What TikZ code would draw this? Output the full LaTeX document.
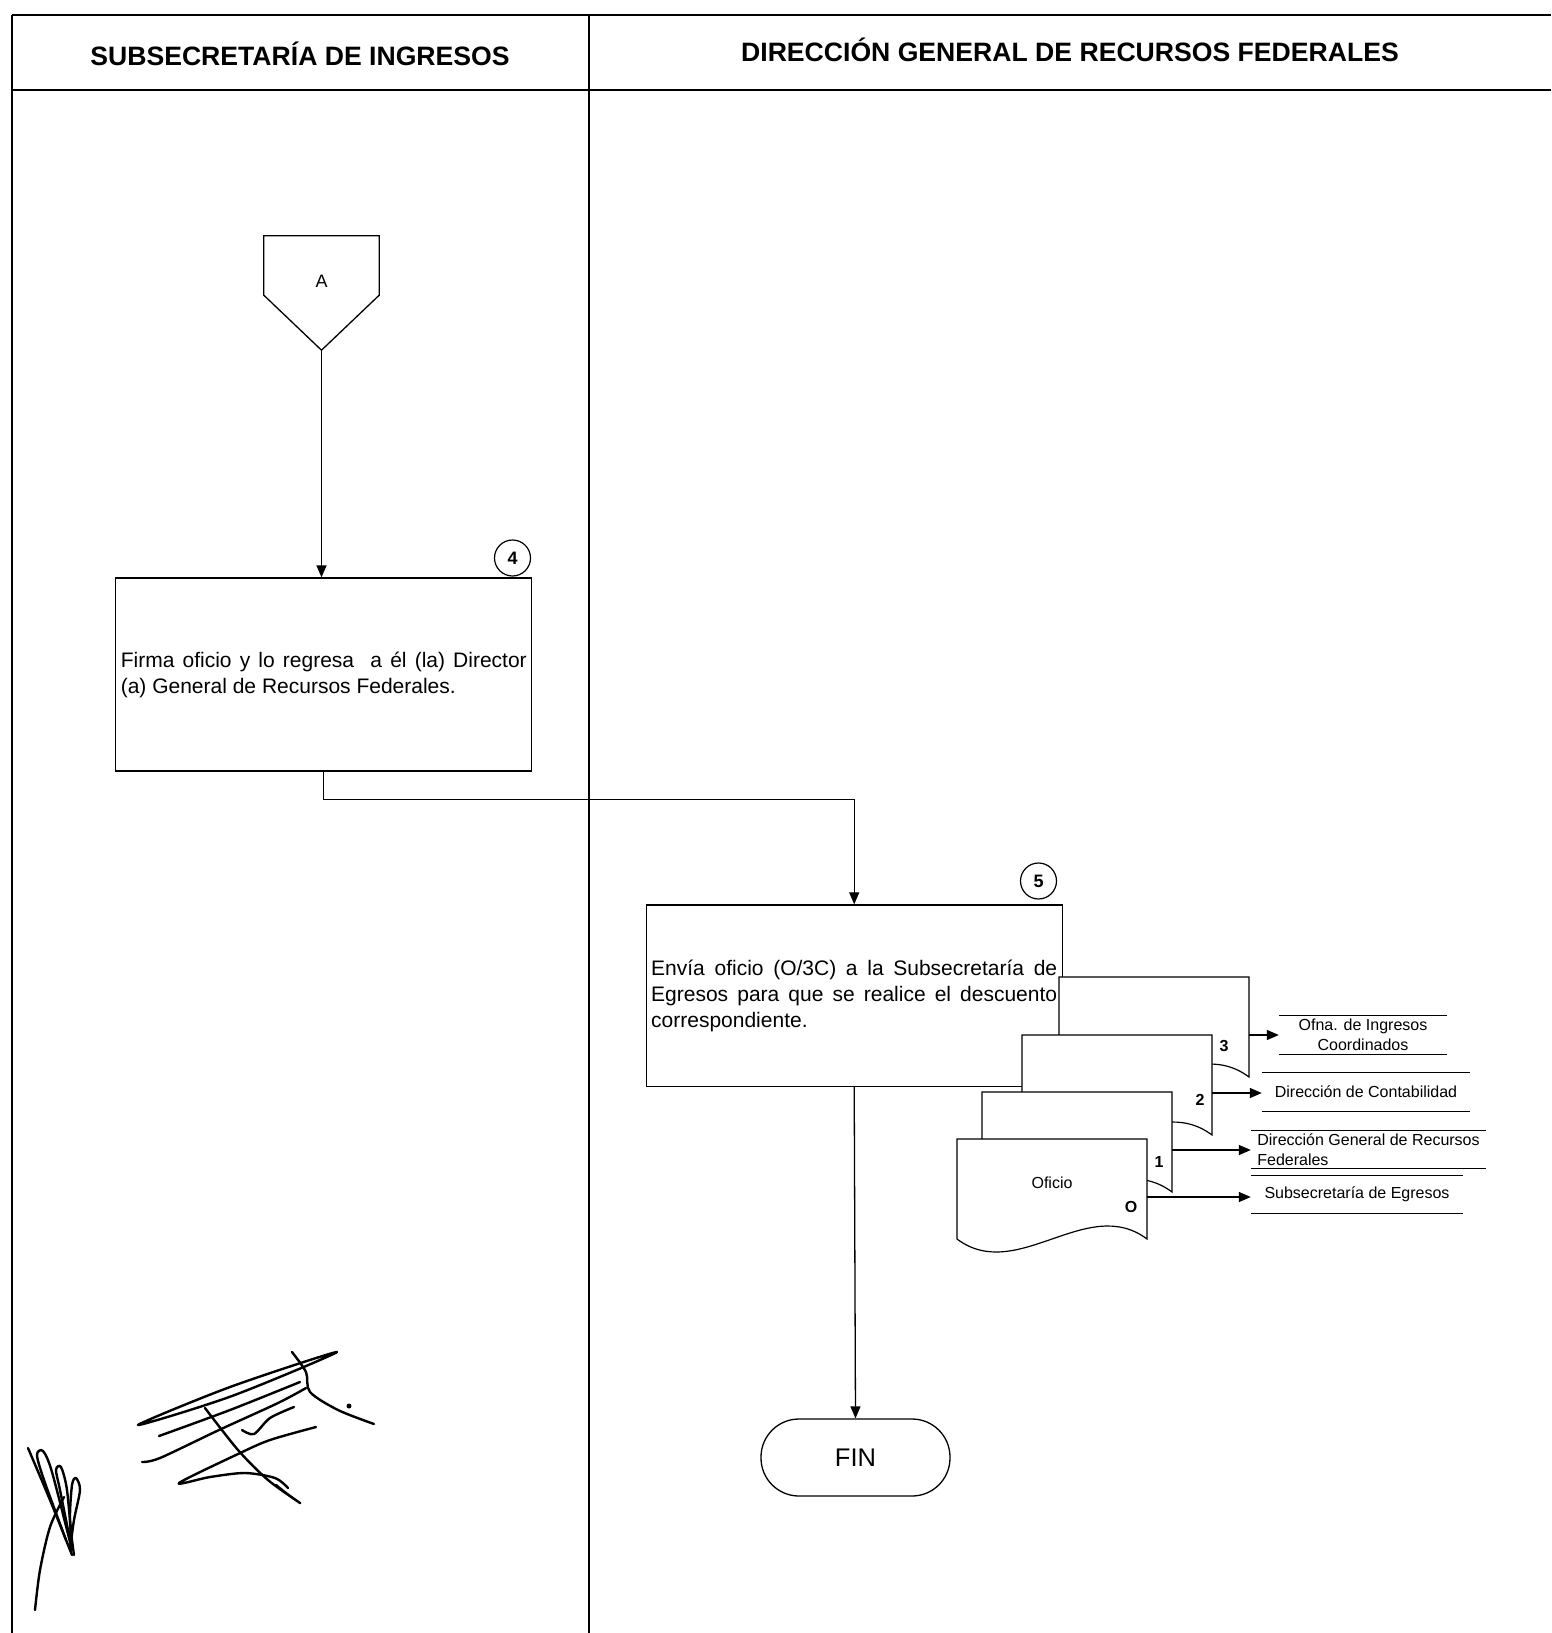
\documentclass[tikz,border=0pt]{standalone}
\usepackage{fontspec}
\setmainfont{Liberation Sans}
\usetikzlibrary{arrows.meta}

\begin{document}
\begin{tikzpicture}[x=1pt, y=-1pt,
		lane/.style={line width=1.6pt},
		hdr/.style={font=\bfseries\fontsize{26.6}{30}\selectfont},
		proc/.style={rectangle, draw, line width=1.3pt, align=justify, text width=406pt, inner xsep=5pt, font=\fontsize{21}{26}\selectfont},
		num/.style={circle, draw, line width=1.2pt, minimum size=36, inner sep=0pt, font=\bfseries\fontsize{18}{18}\selectfont},
		term/.style={rectangle, draw, line width=1.3pt, rounded corners=38pt, minimum width=189, minimum height=77, font=\fontsize{25.5}{25.5}\selectfont},
		conn/.style={rectangle, minimum width=115, minimum height=114, inner sep=0pt},
		flow/.style={-{Triangle[length=12pt, width=10pt]}, line width=1.3pt},
		doc/.style={draw, fill=white, line width=1.2pt},
		small/.style={font=\fontsize{16}{19.5}\selectfont},
		copyno/.style={font=\bfseries\fontsize{16}{16}\selectfont},
		dest/.style={small, minimum height=38, inner xsep=6pt, align=center},
		rule/.style={line width=1.2pt},
		sign/.style={line width=2.4pt, line cap=round, line join=round}
		]
		\useasboundingbox (0,0) rectangle (1551,1633);
		
		%Lanes
		\draw[lane] (12,15) -- (1551,15);
		\draw[lane] (12,90) -- (1551,90);
		\draw[lane] (12,15) -- (12,1633);
		\draw[lane] (589,15) -- (589,1633);
		\node[hdr]	(hd1)	at (300,54)		{SUBSECRETARÍA DE INGRESOS};
		\node[hdr]	(hd2)	at (1070,50)	{DIRECCIÓN GENERAL DE RECURSOS FEDERALES};
		
		%Nodes
		\node[conn]	(conA)	at (321.5,293)	{};
		\node[font=\fontsize{18}{18}\selectfont] (conAlbl) at (321.5,281) {A};
		\node[proc, minimum height=193]	(box4)	at (323.8,674.5)	{Firma oficio y lo regresa~ a él (la) Director\linebreak (a) General de Recursos Federales.};
		\node[num]	(n4)	at (512.5,558)	{4};
		\node[proc, minimum height=181.5]	(box5)	at (854.2,995.7)	{Envía oficio (O/3C) a la Subsecretaría de\linebreak Egresos para que se realice el descuento\linebreak correspondiente.};
		\node[num]	(n5)	at (1038.5,881)	{5};
		\node[term]	(fin)	at (855.5,1457.5)	{FIN};
		
		\draw[line width=1.3pt] (conA.north west) -- (conA.north east) -- ([yshift=55pt]conA.south east)
			-- (conA.south) -- ([yshift=55pt]conA.south west) -- cycle;
		
		%Lines
		\draw[flow] (conA.south) -- (conA.south |- box4.north);
		\draw[flow] (box4.south) -- ++(0,28) -| (box5.north);
		\draw[flow] (box5.south) -- (fin.north);
		
		%Documents
		\foreach \n/\x/\y/\t/\lx/\ly in {3/1059/977/3/1224/1046, 2/1022/1035/2/1200/1100, 1/982/1092/1/1159/1162, 0/957/1139/O/1131/1207}{
			\draw[doc] (\x,\y) -- (\x+190,\y) -- (\x+190,\y+100)
				.. controls (\x+130,\y+55) and (\x+60,\y+145) .. (\x,\y+100) -- cycle;
			\node[copyno] (dn\n) at (\lx,\ly) {\t};
			\coordinate (doc\n) at (\x+190,\y+58);
		}
		\node[small]	(ofi)	at (1052,1183)	{Oficio};
		
		\node[dest, minimum width=168]	(dest3)	at (1363,1035)	{Ofna. de Ingresos\\Coordinados};
		\node[dest, minimum width=208, minimum height=39]	(dest2)	at (1366,1092)	{Dirección de Contabilidad};
		\node[dest, minimum width=235, minimum height=37, align=left]	(dest1)	at (1368.5,1149.5)	{Dirección General de Recursos\\Federales};
		\node[dest, minimum width=212, minimum height=37]	(dest0)	at (1357,1194.5)	{Subsecretaría de Egresos};
		
		\foreach \n in {0,...,3}{
			\draw[flow] (doc\n) -- (doc\n -| dest\n.west);
			\draw[rule] (dest\n.north west) -- (dest\n.north east) (dest\n.south west) -- (dest\n.south east);
		}
		
		%Signatures
		\draw[sign] plot[smooth cycle] coordinates {(138,1425) (230,1387) (337,1352) (232,1396)};
		\draw[sign] plot[smooth] coordinates {(159,1436) (230,1410) (300,1382)};
		\draw[sign] plot[smooth] coordinates {(142,1462) (160,1458) (219,1430) (278,1403) (306,1388)};
		\draw[sign] plot[smooth] coordinates {(205,1408) (238,1450) (268,1480) (300,1503) (286,1493) (276,1485)};
		\draw[sign] plot[smooth] coordinates {(316,1427) (270,1440) (238,1454) (179,1483) (210,1477) (245,1473) (275,1478) (288,1488)};
		\draw[sign] plot[smooth] coordinates {(292,1352) (306,1372) (310,1392) (338,1410) (374,1424)};
		\draw[sign] plot[smooth] coordinates {(242,1430) (254,1434) (270,1418) (294,1407)};
		\fill (349,1406) circle (2.5);
		\draw[sign] plot[smooth] coordinates {(28,1448) (50,1500) (72,1555)};
		\draw[sign] plot[smooth] coordinates {(66,1540) (44,1480) (37,1455) (43,1451) (52,1472) (72,1550)};
		\draw[sign] plot[smooth] coordinates {(72,1550) (60,1490) (56,1470) (61,1467) (67,1490) (72,1545)};
		\draw[sign] plot[smooth] coordinates {(70,1550) (74,1520) (80,1490) (76,1478) (72,1485) (70,1520) (74,1555)};
		\draw[sign] plot[smooth] coordinates {(64,1497) (50,1527) (40,1570) (35,1610)};
		
	\end{tikzpicture}
\end{document}
